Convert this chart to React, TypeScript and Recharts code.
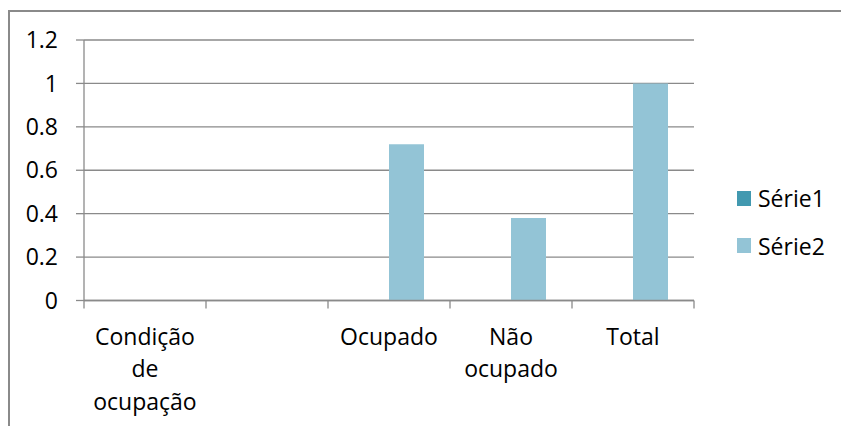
import { BarChart, Bar, XAxis, YAxis, CartesianGrid, Legend } from "recharts";

const categories = ["Condição de ocupação", "", "Ocupado", "Não ocupado", "Total"];
const serie1 = [0, 0, 0, 0, 0];
const serie2 = [0, 0, 0.72, 0.38, 1];
const yTicks = [0, 0.2, 0.4, 0.6, 0.8, 1, 1.2];

const data = categories.map((name, i) => ({
    name,
    serie1: serie1[i],
    serie2: serie2[i],
}));

const FONT = "'Open Sans', 'Noto Sans', sans-serif";
const GRID = "#8a8a8a";
const FS = 23;

// tick that draws the boundary marks (Excel style) plus a wrapped label
const CategoryTick = (props: any) => {
    const { x, y, payload, index, visibleTicksCount } = props;
    const half = payload.offset || 61;
    const words = String(payload.value).split(" ").filter((w) => w.length);
    const last = index === (visibleTicksCount ?? categories.length) - 1;
    return (
        <g>
            <line x1={x - half} x2={x - half} y1={y} y2={y + 8} stroke={GRID} strokeWidth={1.3} />
            {last && <line x1={x + half} x2={x + half} y1={y} y2={y + 8} stroke={GRID} strokeWidth={1.3} />}
            <text x={x} y={y + 44} textAnchor="middle" fill="#000" fontSize={FS} fontFamily={FONT}>
                {words.map((w, i) => (
                    <tspan key={i} x={x} dy={i === 0 ? 0 : 32.7}>
                        {w}
                    </tspan>
                ))}
            </text>
        </g>
    );
};

const renderLegend = (props: any) => {
    const { payload } = props;
    return (
        <div style={{ fontFamily: FONT, fontSize: FS, color: "#000" }}>
            {payload.map((entry: any, i: number) => (
                <div key={`item-${i}`} style={{ display: "flex", alignItems: "center", height: 47.5 }}>
                    <span style={{ display: "inline-block", width: 14, height: 15, background: entry.color, marginRight: 7 }} />
                    <span>{entry.value}</span>
                </div>
            ))}
        </div>
    );
};

const App = () => {
    return (
        <div style={{ position: "fixed", left: 0, top: 0, width: 841, height: 426, overflow: "hidden", background: "#fff" }}>
            {/* outer chart frame, only top and left edges are visible */}
            <div style={{ position: "absolute", left: 8, top: 10, width: 840, height: 1.5, background: GRID }} />
            <div style={{ position: "absolute", left: 8, top: 10, width: 1.5, height: 420, background: GRID }} />
            <div style={{ position: "absolute", left: 0, top: 0 }}>
                <BarChart
                    width={841}
                    height={426}
                    data={data}
                    margin={{ top: 40, right: 147, bottom: 25.5, left: 24 }}
                    barGap={0}
                >
                    <CartesianGrid vertical={false} stroke={GRID} strokeWidth={1.3} />
                    <XAxis
                        dataKey="name"
                        height={100}
                        interval={0}
                        tickSize={0}
                        tickMargin={0}
                        tickLine={false}
                        axisLine={{ stroke: GRID, strokeWidth: 1.3 }}
                        tick={<CategoryTick />}
                    />
                    <YAxis
                        width={60}
                        domain={[0, 1.2]}
                        ticks={yTicks}
                        interval={0}
                        tickSize={8}
                        tickMargin={18}
                        axisLine={{ stroke: GRID, strokeWidth: 1.3 }}
                        tickLine={{ stroke: GRID, strokeWidth: 1.3 }}
                        tick={{ fill: "#000", fontSize: FS, fontFamily: FONT }}
                    />
                    <Legend
                        layout="horizontal"
                        verticalAlign="middle"
                        align="center"
                        content={renderLegend}
                        wrapperStyle={{ left: 737, top: 174.5, width: "auto", height: "auto" }}
                    />
                    <Bar dataKey="serie1" name="Série1" fill="#4299B0" barSize={35} isAnimationActive={false} />
                    <Bar dataKey="serie2" name="Série2" fill="#93C4D6" barSize={35} isAnimationActive={false} />
                </BarChart>
            </div>
        </div>
    );
};

export default App;
